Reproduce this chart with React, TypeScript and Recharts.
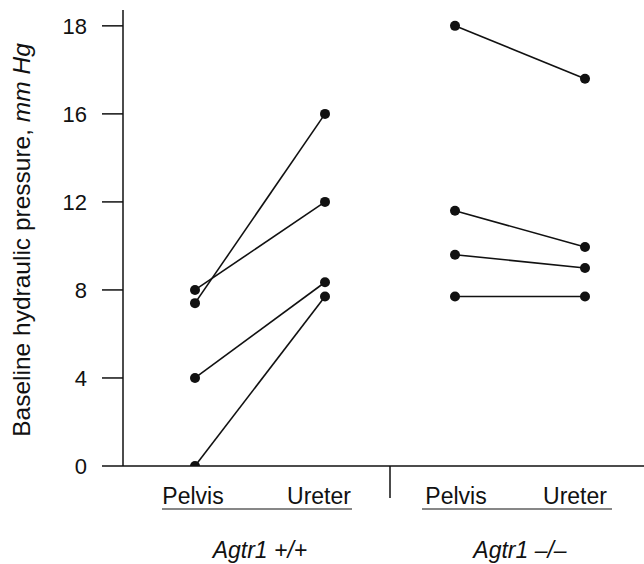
import { LineChart, Line, XAxis, YAxis } from "recharts";

const categories = ["Pelvis", "Ureter", "Pelvis", "Ureter"];
const slots = ["wt-pelvis", "wt-ureter", "ko-pelvis", "ko-ureter"];
const groups = ["Agtr1 +/+", "Agtr1 \u2013/\u2013"];
const yTicks = [0, 4, 8, 12, 16, 18];

// paired measurements, one pair per animal
const wtPelvis = [8.0, 7.4, 4.0, 0];
const wtUreter = [12.0, 16.0, 8.35, 7.7];
const koPelvis = [18.0, 11.6, 9.6, 7.7];
const koUreter = [16.8, 9.95, 9.0, 7.7];

const rows = slots.map((slot, i) => {
  const row: Record<string, any> = { slot };
  wtPelvis.forEach((_, j) => {
    row[`wt${j}`] = i === 0 ? wtPelvis[j] : i === 1 ? wtUreter[j] : undefined;
    row[`ko${j}`] = i === 2 ? koPelvis[j] : i === 3 ? koUreter[j] : undefined;
  });
  return row;
});

const W = 644;
const H = 564;
const AXIS_W = 123;
const PAD_L = 72;
const PAD_R = 59;
const STEP = (W - PAD_R - (AXIS_W + PAD_L)) / (categories.length - 1);
const FONT = "'Liberation Sans', Arial, Helvetica, sans-serif";
const INK = "#111";
// labels in the original sit a little left of their points
const labelNudge = [-2, -6, 1, -10];

// the original axis gives the 16-18 step twice the room of the others
const warp = (v: number) => (v > 16 ? 16 + (v - 16) * 2 : v);

function splitScale(dom: number[] = [0, 1], rng: number[] = [0, 1]): any {
  const f: any = (v: number) => {
    const a = warp(dom[0]);
    const b = warp(dom[dom.length - 1]);
    return rng[0] + ((warp(v) - a) / (b - a)) * (rng[rng.length - 1] - rng[0]);
  };
  f.domain = (d?: number[]) => {
    if (d === undefined) return dom;
    dom = d.slice();
    return f;
  };
  f.range = (r?: number[]) => {
    if (r === undefined) return rng;
    rng = r.slice();
    return f;
  };
  f.copy = () => splitScale(dom.slice(), rng.slice());
  f.ticks = () => yTicks.filter((t) => t >= dom[0] && t <= dom[dom.length - 1]);
  return f;
}

const CategoryTick = (props: any) => {
  const { x, y, index } = props;
  return (
    <g>
      <text
        x={x + labelNudge[index]}
        y={y}
        dy="0.71em"
        textAnchor="middle"
        fontSize={23}
        fontFamily={FONT}
        fill={INK}
      >
        {categories[index]}
      </text>
      {index % 2 === 0 && (
        <>
          <line x1={x - 33} x2={x + STEP + 27} y1={y + 21} y2={y + 21} stroke={INK} strokeWidth={1.2} />
          <text
            x={x + STEP / 2}
            y={y + 70}
            textAnchor="middle"
            fontSize={23}
            fontStyle="italic"
            fontFamily={FONT}
            fill={INK}
          >
            {groups[index / 2]}
          </text>
        </>
      )}
      {index === 1 && (
        <line x1={x + STEP / 2} x2={x + STEP / 2} y1={y - 22} y2={y + 10} stroke={INK} strokeWidth={1.5} />
      )}
    </g>
  );
};

const YTitle = (props: any) => {
  const { viewBox } = props;
  const cy = viewBox.y + viewBox.height / 2 + 2;
  return (
    <text
      x={30}
      y={cy}
      transform={`rotate(-90, 30, ${cy})`}
      textAnchor="middle"
      fontSize={24.5}
      fontFamily={FONT}
      fill={INK}
    >
      Baseline hydraulic pressure, <tspan fontStyle="italic">mm Hg</tspan>
    </text>
  );
};

export default function App() {
  return (
    <div style={{ position: "absolute", left: 0, top: 0, background: "#fff" }}>
      <LineChart width={W} height={H} data={rows} margin={{ top: 10, right: 0, bottom: 0, left: 0 }}>
        <XAxis
          dataKey="slot"
          type="category"
          height={H - 466}
          padding={{ left: PAD_L, right: PAD_R }}
          interval={0}
          tickLine={false}
          tickSize={6}
          tickMargin={16}
          axisLine={{ stroke: INK, strokeWidth: 1.5 }}
          tick={<CategoryTick />}
        />
        <YAxis
          type="number"
          width={AXIS_W}
          domain={[0, 18.36]}
          allowDataOverflow
          scale={splitScale()}
          ticks={yTicks}
          interval={0}
          tickSize={21}
          tickMargin={15}
          axisLine={{ stroke: INK, strokeWidth: 1.5 }}
          tickLine={{ stroke: INK, strokeWidth: 1.5 }}
          tick={{ fontSize: 22, fontFamily: FONT, fill: INK }}
          label={<YTitle />}
        />
        {wtPelvis.map((_, j) => (
          <Line
            key={`wt${j}`}
            dataKey={`wt${j}`}
            type="linear"
            stroke={INK}
            strokeWidth={1.6}
            dot={{ r: 5, fill: INK, stroke: INK, strokeWidth: 0 }}
            activeDot={false}
            legendType="none"
            isAnimationActive={false}
          />
        ))}
        {koPelvis.map((_, j) => (
          <Line
            key={`ko${j}`}
            dataKey={`ko${j}`}
            type="linear"
            stroke={INK}
            strokeWidth={1.6}
            dot={{ r: 5, fill: INK, stroke: INK, strokeWidth: 0 }}
            activeDot={false}
            legendType="none"
            isAnimationActive={false}
          />
        ))}
      </LineChart>
    </div>
  );
}
